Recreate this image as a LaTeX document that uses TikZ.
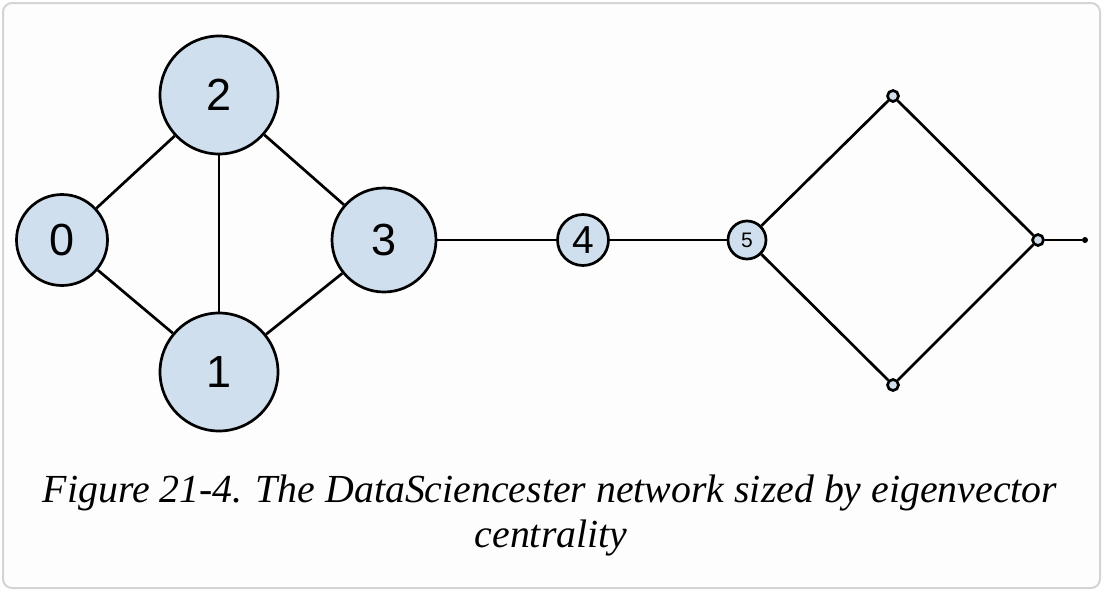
\documentclass[tikz,border=0pt]{standalone}
\usepackage{fontspec}
\setmainfont{Liberation Serif}
\setsansfont{Liberation Sans}
\definecolor{nodefill}{HTML}{CFDFEE}
\definecolor{framegray}{HTML}{D4D4D4}
\definecolor{bggray}{HTML}{FDFDFD}
\begin{document}
\begin{tikzpicture}[x=1pt,y=-1pt,
  vert/.style={circle,draw=black,fill=nodefill,line width=2.7pt,inner sep=0pt,font=\sffamily},
  edge/.style={line width=2.7pt,black},
  caption/.style={anchor=base,inner sep=0pt,font=\fontsize{39.8}{45}\selectfont\itshape}]
\useasboundingbox (0,0) rectangle (1104,592);
\fill[white] (0,0) rectangle (1104,592);
\draw[framegray,fill=bggray,line width=2pt,rounded corners=9pt] (3,3) rectangle (1100,588);
% nodes
\node[vert,minimum size=118pt,font=\sffamily\fontsize{45}{45}\selectfont] (n2) at (219,95) {2};
\node[vert,minimum size=91pt,font=\sffamily\fontsize{45}{45}\selectfont] (n0) at (62,240) {0};
\node[vert,minimum size=104pt,font=\sffamily\fontsize{45}{45}\selectfont] (n3) at (384,240) {3};
\node[vert,minimum size=118pt,font=\sffamily\fontsize{45}{45}\selectfont] (n1) at (219,372) {1};
\node[vert,minimum size=51pt,font=\sffamily\fontsize{39}{39}\selectfont] (n4) at (583,240) {4};
\node[vert,minimum size=38pt,font=\sffamily\fontsize{21}{21}\selectfont] (n5) at (747,240) {5};
\node[vert,minimum size=11pt] (n6) at (893,96) {};
\node[vert,minimum size=11pt] (n7) at (893,385) {};
\node[vert,minimum size=11pt] (n8) at (1038,240) {};
\node[circle,fill=black,inner sep=0pt,minimum size=6pt] (n9) at (1085,240) {};
% edges
\draw[edge] (n0) -- (n2);
\draw[edge] (n0) -- (n1);
\draw[edge] (n2) -- (n1);
\draw[edge] (n2) -- (n3);
\draw[edge] (n3) -- (n1);
\draw[edge] (n3) -- (n4);
\draw[edge] (n4) -- (n5);
\draw[edge] (n5) -- (n6);
\draw[edge] (n5) -- (n7);
\draw[edge] (n6) -- (n8);
\draw[edge] (n7) -- (n8);
\draw[edge] (n8) -- (n9);
% caption
\node[caption] (cap1) at (550,502) {Figure 21-4. The DataSciencester network sized by eigenvector};
\node[caption] (cap2) at (551,547) {centrality};
\end{tikzpicture}
\end{document}
